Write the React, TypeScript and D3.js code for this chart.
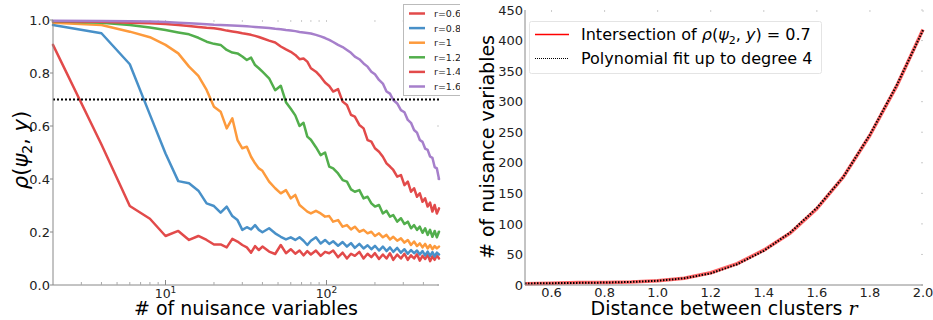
import React, { useEffect, useRef } from "react";
import * as d3 from "d3";

// ---------- Left panel data ----------
const nuisanceCounts = [
  2, 4, 6, 8, 10, 12, 14, 16, 18, 20, 22, 24, 26, 28, 30, 32, 34, 36, 38, 40,
  44, 48, 52, 56, 60, 64, 68, 72, 76, 80,
  86, 92, 98, 104, 110,
  118, 126, 134, 142, 150,
  160, 170, 180, 190, 200,
  212, 224, 236, 248, 260,
  275, 290, 305, 320, 335, 350, 365, 380, 395, 410, 425, 440, 455, 470, 485, 500,
];

const rhoR06 = [
  0.906, 0.53, 0.298, 0.25, 0.185, 0.204, 0.17, 0.185, 0.17, 0.153, 0.153, 0.142, 0.174, 0.164, 0.151, 0.142, 0.122, 0.147, 0.132, 0.145,
  0.126, 0.117, 0.151, 0.12, 0.135, 0.118, 0.13, 0.112, 0.128, 0.115,
  0.13, 0.11, 0.125, 0.12, 0.13,
  0.105, 0.122, 0.1, 0.118, 0.11,
  0.125, 0.1, 0.118, 0.105, 0.12,
  0.098, 0.115, 0.1, 0.12, 0.095,
  0.115, 0.1, 0.118, 0.095, 0.112, 0.1, 0.116, 0.092, 0.11, 0.098, 0.115, 0.09, 0.108, 0.095, 0.112, 0.1,
];

const rhoR08 = [
  0.981, 0.95, 0.833, 0.643, 0.496, 0.392, 0.384, 0.356, 0.308, 0.298, 0.273, 0.296, 0.26, 0.245, 0.208, 0.218, 0.21, 0.226, 0.208, 0.199,
  0.214, 0.195, 0.182, 0.172, 0.18, 0.17, 0.18, 0.167, 0.151, 0.167,
  0.18, 0.157, 0.17, 0.155, 0.165,
  0.148, 0.162, 0.145, 0.158, 0.14,
  0.155, 0.138, 0.15, 0.135, 0.148,
  0.13, 0.145, 0.128, 0.142, 0.125,
  0.14, 0.122, 0.135, 0.118, 0.132, 0.12, 0.13, 0.115, 0.128, 0.112, 0.126, 0.11, 0.124, 0.108, 0.122, 0.115,
];

const rhoR10 = [
  0.99, 0.981, 0.956, 0.935, 0.906, 0.874, 0.824, 0.789, 0.736, 0.673, 0.654, 0.591, 0.629, 0.547, 0.516, 0.522, 0.484, 0.459, 0.44, 0.431,
  0.39, 0.365, 0.346, 0.358, 0.327, 0.34, 0.302, 0.289, 0.277, 0.27,
  0.28, 0.27, 0.258, 0.26, 0.239,
  0.245, 0.22, 0.226, 0.21, 0.22,
  0.201, 0.208, 0.195, 0.201, 0.185,
  0.195, 0.18, 0.189, 0.172, 0.182,
  0.167, 0.176, 0.16, 0.17, 0.151, 0.164, 0.147, 0.157, 0.142, 0.155, 0.138, 0.151, 0.135, 0.147, 0.138, 0.145,
];

const rhoR12 = [
  0.995, 0.99, 0.981, 0.972, 0.962, 0.953, 0.946, 0.933, 0.918, 0.91, 0.906, 0.887, 0.877, 0.874, 0.862, 0.849, 0.858, 0.83, 0.818, 0.805,
  0.78, 0.735, 0.752, 0.69, 0.665, 0.64, 0.6, 0.612, 0.56, 0.548,
  0.52, 0.49, 0.5, 0.447, 0.44,
  0.421, 0.396, 0.39, 0.361, 0.352,
  0.358, 0.327, 0.333, 0.308, 0.296,
  0.302, 0.27, 0.28, 0.258, 0.264,
  0.239, 0.252, 0.23, 0.239, 0.214, 0.226, 0.208, 0.22, 0.197, 0.214, 0.189, 0.208, 0.182, 0.204, 0.18, 0.201,
];

const rhoR14 = [
  0.995, 0.993, 0.99, 0.988, 0.985, 0.981, 0.977, 0.974, 0.971, 0.969, 0.965, 0.96, 0.957, 0.954, 0.95, 0.947, 0.944, 0.94, 0.936, 0.931,
  0.922, 0.915, 0.9, 0.889, 0.88, 0.868, 0.852, 0.855, 0.843, 0.818,
  0.805, 0.786, 0.764, 0.751, 0.73,
  0.739, 0.692, 0.679, 0.642, 0.635,
  0.604, 0.591, 0.547, 0.541, 0.516,
  0.503, 0.484, 0.459, 0.447, 0.434,
  0.409, 0.415, 0.377, 0.39, 0.352, 0.365, 0.333, 0.346, 0.314, 0.327, 0.296, 0.311, 0.277, 0.302, 0.27, 0.289,
];

const rhoR16 = [
  0.997, 0.996, 0.995, 0.994, 0.992, 0.99, 0.988, 0.986, 0.984, 0.982, 0.981, 0.98, 0.979, 0.978, 0.977, 0.976, 0.975, 0.974, 0.973, 0.972,
  0.97, 0.967, 0.965, 0.962, 0.96, 0.958, 0.955, 0.953, 0.951, 0.949,
  0.944, 0.938, 0.932, 0.925, 0.917,
  0.906, 0.898, 0.887, 0.876, 0.862,
  0.852, 0.836, 0.824, 0.805, 0.795,
  0.774, 0.76, 0.73, 0.722, 0.698,
  0.685, 0.66, 0.652, 0.623, 0.612, 0.585, 0.575, 0.547, 0.54, 0.515, 0.51, 0.485, 0.48, 0.445, 0.44, 0.4,
];

const seriesLabels = ["r=0.6", "r=0.8", "r=1", "r=1.2", "r=1.4", "r=1.6"];
const seriesValues = [rhoR06, rhoR08, rhoR10, rhoR12, rhoR14, rhoR16];
const seriesColors = ["#e24a4a", "#4890c8", "#fd9a3c", "#52ae4c", "#e24a4a", "#a67fcb"];
const leftYTicks = [0, 0.2, 0.4, 0.6, 0.8, 1.0];
const leftXMajor = [10, 100];
const leftXMinor = [3, 4, 5, 6, 7, 8, 9, 20, 30, 40, 50, 60, 70, 80, 90, 200, 300, 400];
const threshold = 0.7;

// ---------- Right panel data ----------
const clusterDistances = [0.5, 0.6, 0.7, 0.8, 0.9, 1.0, 1.1, 1.2, 1.3, 1.4, 1.5, 1.6, 1.7, 1.8, 1.9, 2.0];
const intersectionCounts = [2, 3, 4, 4, 5, 7, 11, 20, 35, 57, 85, 125, 177, 245, 325, 418];
const polyFitCounts = [2.5, 3, 3.5, 4, 5, 7, 11, 19, 34, 56, 86, 126, 177, 246, 326, 417];
const rightYTicks = [0, 50, 100, 150, 200, 250, 300, 350, 400, 450];
const rightXTicks = [0.6, 0.8, 1.0, 1.2, 1.4, 1.6, 1.8, 2.0];

const FONT = "'DejaVu Sans', sans-serif";

export default function App() {
  const ref = useRef<SVGSVGElement>(null);

  useEffect(() => {
    const svg = d3.select(ref.current);
    svg.selectAll("*").remove();

    // ===== LEFT PANEL =====
    const xL = d3.scaleLog().domain([2, 500]).range([53, 439]);
    const yL = d3.scaleLinear().domain([0, 1]).range([285, 20]);
    const gL = svg.append("g");

    [...leftXMajor, ...leftXMinor].forEach((t) => {
      gL.append("line").attr("x1", xL(t)).attr("x2", xL(t)).attr("y1", 20).attr("y2", 22)
        .attr("stroke", "#ccc").attr("stroke-width", 1);
    });
    leftYTicks.forEach((t) => {
      gL.append("line").attr("x1", 437).attr("x2", 439).attr("y1", yL(t)).attr("y2", yL(t))
        .attr("stroke", "#ccc").attr("stroke-width", 1);
    });

    const lineL = d3.line<number>()
      .x((_, i) => xL(nuisanceCounts[i]))
      .y((d) => yL(d));
    seriesValues.forEach((vals, si) => {
      gL.append("path").datum(vals).attr("d", lineL)
        .attr("fill", "none").attr("stroke", seriesColors[si])
        .attr("stroke-width", 2.5).attr("stroke-linejoin", "round").attr("stroke-linecap", "round");
    });

    gL.append("line").attr("x1", xL(2)).attr("x2", xL(500)).attr("y1", yL(threshold)).attr("y2", yL(threshold))
      .attr("stroke", "#000").attr("stroke-width", 2).attr("stroke-dasharray", "2,2");

    gL.append("line").attr("x1", 53).attr("x2", 53).attr("y1", 20).attr("y2", 285).attr("stroke", "#888");
    gL.append("line").attr("x1", 53).attr("x2", 439).attr("y1", 285).attr("y2", 285).attr("stroke", "#888");

    leftYTicks.forEach((t) => {
      gL.append("line").attr("x1", 50).attr("x2", 53).attr("y1", yL(t)).attr("y2", yL(t)).attr("stroke", "#888");
      gL.append("text").attr("x", 50).attr("y", yL(t)).attr("dy", "0.36em")
        .attr("text-anchor", "end").attr("font-family", FONT).attr("font-size", 13).attr("fill", "#222")
        .text(t.toFixed(1));
    });
    leftXMinor.forEach((t) => {
      gL.append("line").attr("x1", xL(t)).attr("x2", xL(t)).attr("y1", 285).attr("y2", 282).attr("stroke", "#aaa");
    });
    leftXMajor.forEach((t) => {
      gL.append("line").attr("x1", xL(t)).attr("x2", xL(t)).attr("y1", 285).attr("y2", 280).attr("stroke", "#888");
      const tx = gL.append("text").attr("x", xL(t)).attr("y", 298)
        .attr("text-anchor", "middle").attr("font-family", FONT).attr("font-size", 12.5).attr("fill", "#222");
      tx.append("tspan").text("10");
      tx.append("tspan").attr("dy", -5).attr("font-size", 9).text(String(Math.round(Math.log10(t))));
    });

    gL.append("text").attr("x", 246).attr("y", 315).attr("text-anchor", "middle")
      .attr("font-family", FONT).attr("font-size", 19).attr("fill", "#000").text("# of nuisance variables");
    const yl = gL.append("text").attr("transform", "translate(28,150) rotate(-90)").attr("text-anchor", "middle")
      .attr("font-family", FONT).attr("font-size", 21).attr("fill", "#000");
    yl.append("tspan").attr("font-style", "italic").text("ρ");
    yl.append("tspan").text("(");
    yl.append("tspan").attr("font-style", "italic").text("ψ");
    yl.append("tspan").attr("font-size", 14).attr("dy", 4).text("2");
    yl.append("tspan").attr("dy", -4).text(", ");
    yl.append("tspan").attr("font-style", "italic").text("y");
    yl.append("tspan").text(")");

    const clip = svg.append("defs").append("clipPath").attr("id", "legclip");
    clip.append("rect").attr("x", 0).attr("y", 0).attr("width", 460).attr("height", 320);
    const leg = gL.append("g").attr("clip-path", "url(#legclip)");
    leg.append("rect").attr("x", 403.5).attr("y", 4.5).attr("width", 70).attr("height", 91)
      .attr("fill", "#fff").attr("stroke", "#bbb").attr("stroke-width", 1);
    seriesLabels.forEach((lab, i) => {
      const y = 13.5 + i * 14.6;
      leg.append("line").attr("x1", 409).attr("x2", 425).attr("y1", y).attr("y2", y)
        .attr("stroke", seriesColors[i]).attr("stroke-width", 2.5);
      leg.append("text").attr("x", 434).attr("y", y).attr("dy", "0.36em")
        .attr("font-family", FONT).attr("font-size", 9.5).attr("fill", "#222").text(lab);
    });

    // ===== RIGHT PANEL =====
    const xR = d3.scaleLinear().domain([0.5, 2.0]).range([525, 923]);
    const yR = d3.scaleLinear().domain([0, 450]).range([285, 10]);
    const gR = svg.append("g");

    rightYTicks.forEach((t) => {
      gR.append("line").attr("x1", 921).attr("x2", 923).attr("y1", yR(t)).attr("y2", yR(t)).attr("stroke", "#ccc");
    });
    rightXTicks.forEach((t) => {
      gR.append("line").attr("x1", xR(t)).attr("x2", xR(t)).attr("y1", 10).attr("y2", 12).attr("stroke", "#ccc");
    });

    const lineR = d3.line<number>().x((_, i) => xR(clusterDistances[i])).y((d) => yR(d));
    gR.append("path").datum(intersectionCounts).attr("d", lineR).attr("fill", "none")
      .attr("stroke", "#ff0000").attr("stroke-opacity", 0.6).attr("stroke-width", 3.5).attr("stroke-linejoin", "round");
    gR.append("path").datum(polyFitCounts).attr("d", lineR).attr("fill", "none")
      .attr("stroke", "#000").attr("stroke-width", 2).attr("stroke-dasharray", "1.5,1.5");

    gR.append("line").attr("x1", 525).attr("x2", 525).attr("y1", 10).attr("y2", 285).attr("stroke", "#888");
    gR.append("line").attr("x1", 525).attr("x2", 923).attr("y1", 285).attr("y2", 285).attr("stroke", "#888");

    rightYTicks.forEach((t) => {
      gR.append("text").attr("x", 523).attr("y", yR(t)).attr("dy", "0.36em").attr("text-anchor", "end")
        .attr("font-family", FONT).attr("font-size", 13).attr("fill", "#222").text(String(t));
    });
    rightXTicks.forEach((t) => {
      gR.append("text").attr("x", xR(t)).attr("y", 297).attr("text-anchor", "middle")
        .attr("font-family", FONT).attr("font-size", 13).attr("fill", "#222").text(t.toFixed(1));
    });

    const xl = gR.append("text").attr("x", 724).attr("y", 315).attr("text-anchor", "middle")
      .attr("font-family", FONT).attr("font-size", 19).attr("fill", "#000");
    xl.append("tspan").text("Distance between clusters ");
    xl.append("tspan").attr("font-family", "'DejaVu Serif', serif").attr("font-style", "italic").text("r");

    gR.append("text").attr("transform", "translate(494,147) rotate(-90)").attr("text-anchor", "middle")
      .attr("font-family", FONT).attr("font-size", 19).attr("fill", "#000").text("# of nuisance variables");

    const lg = gR.append("g");
    lg.append("rect").attr("x", 529.5).attr("y", 21.5).attr("width", 292).attr("height", 52).attr("rx", 2)
      .attr("fill", "#fff").attr("stroke", "#e4e4e4");
    lg.append("line").attr("x1", 535).attr("x2", 569).attr("y1", 34.5).attr("y2", 34.5)
      .attr("stroke", "#ff0000").attr("stroke-width", 1.3);
    lg.append("line").attr("x1", 535).attr("x2", 569).attr("y1", 58.5).attr("y2", 58.5)
      .attr("stroke", "#000").attr("stroke-width", 1).attr("stroke-dasharray", "1,1");
    const t1 = lg.append("text").attr("x", 581).attr("y", 34.5).attr("dy", "0.36em")
      .attr("font-family", FONT).attr("font-size", 16).attr("fill", "#000");
    t1.append("tspan").text("Intersection of ");
    t1.append("tspan").attr("font-style", "italic").text("ρ");
    t1.append("tspan").text("(");
    t1.append("tspan").attr("font-style", "italic").text("ψ");
    t1.append("tspan").attr("font-size", 11).attr("dy", 4).text("2");
    t1.append("tspan").attr("dy", -4).text(", ");
    t1.append("tspan").attr("font-style", "italic").text("y");
    t1.append("tspan").text(") = 0.7");
    lg.append("text").attr("x", 581).attr("y", 58.5).attr("dy", "0.36em")
      .attr("font-family", FONT).attr("font-size", 16).attr("fill", "#000").text("Polynomial fit up to degree 4");
  }, []);

  return (
    <svg
      ref={ref}
      width={933}
      height={320}
      style={{ position: "absolute", left: 0, top: 0, background: "#fff" }}
    />
  );
}
